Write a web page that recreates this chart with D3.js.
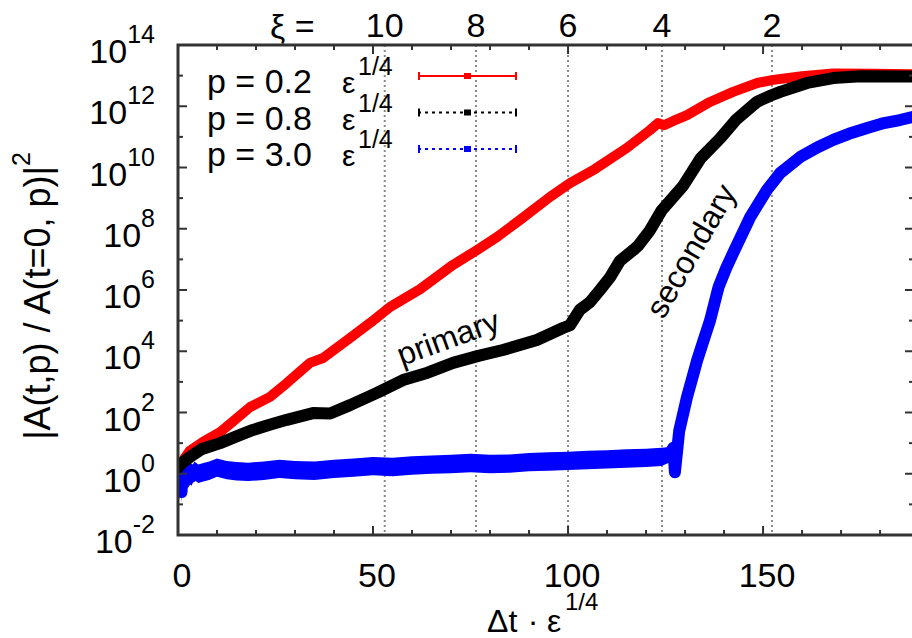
<!DOCTYPE html>
<html>
<head>
<meta charset="utf-8">
<script src="https://cdn.jsdelivr.net/npm/d3@7"></script>
<style>
  body { margin: 0; background: #fff; }
  svg { display: block; }
  text { font-family: "Liberation Sans", Arial, Helvetica, sans-serif; fill: #000; }
</style>
</head>
<body>
<svg id="chart" width="912" height="638"></svg>
<script>
// Growth of |A(t,p)|^2 relative to t = 0, values given as log10 of the ratio.
// p = 0.2 eps^(1/4)
const redT   = [0, 1, 3, 6.4, 10.8, 14.5, 18.5, 23.6, 27.9, 33.8, 37.2, 44.1, 49.2, 54.4, 62, 70.5, 76.7, 81.8, 87.7, 95.4, 100.5, 106.9, 115.1, 121, 123.1, 124.6, 127, 130.5, 136.4, 142.3, 148.5, 152.6, 160, 168, 178, 188.7];
const redLog = [0.2, 0.38, 0.75, 1.04, 1.36, 1.75, 2.18, 2.51, 2.96, 3.62, 3.78, 4.43, 4.92, 5.45, 6.02, 6.82, 7.31, 7.73, 8.29, 9.04, 9.49, 9.95, 10.64, 11.22, 11.45, 11.38, 11.52, 11.71, 12.14, 12.47, 12.76, 12.86, 12.98, 13.07, 13.06, 13.04];

// p = 0.8 eps^(1/4)
const blackT   = [0, 1, 3.1, 6, 10.8, 15, 19.2, 23.5, 27.9, 34.6, 39, 44.1, 51, 57.7, 64, 70.5, 77, 83.3, 92, 98.7, 100.5, 103, 105.6, 108.2, 110.8, 113.3, 116.7, 118, 121, 124, 129.5, 134, 139, 143, 148.5, 152, 154.4, 161.3, 168, 175, 188.7];
const blackLog = [0.2, 0.35, 0.55, 0.8, 1.0, 1.22, 1.43, 1.6, 1.76, 1.98, 1.97, 2.24, 2.64, 3.06, 3.3, 3.62, 3.85, 4.04, 4.37, 4.76, 4.85, 5.35, 5.6, 6.0, 6.42, 6.95, 7.3, 7.45, 7.95, 8.6, 9.4, 10.3, 10.95, 11.55, 12.15, 12.35, 12.47, 12.76, 12.92, 12.98, 12.97];

// p = 3.0 eps^(1/4), with the scatter of the data around the curve (in decades)
const blueT      = [0, 0.3, 0.6, 0.9, 1.2, 1.5, 1.9, 2.3, 2.8, 3.4, 4.2, 5.2, 6.5, 8, 10, 12.5, 15, 18, 22, 26, 30, 35, 40, 45, 50, 55, 60, 65, 70, 75, 80, 85, 90, 95, 100, 105, 110, 115, 120, 124, 126, 127, 127.4, 128.5, 130.5, 133.1, 134.6, 136.4, 138.6, 140.5, 142.3, 146.7, 151, 154.4, 159.5, 164, 168, 172, 176.7, 181, 185.1, 188.7];
const blueLog    = [0.1, -0.5, 0.35, -0.6, 0.2, -0.3, 0.3, -0.2, 0.15, -0.1, 0.1, 0.0, 0.05, 0.1, 0.2, 0.12, 0.08, 0.06, 0.1, 0.16, 0.12, 0.1, 0.16, 0.2, 0.25, 0.22, 0.27, 0.3, 0.32, 0.35, 0.32, 0.33, 0.38, 0.4, 0.42, 0.45, 0.47, 0.5, 0.52, 0.55, 0.62, 0.85, 0.05, 1.4, 2.5, 3.7, 4.3, 5.0, 6.1, 6.7, 7.2, 8.38, 9.27, 9.82, 10.34, 10.66, 10.9, 11.1, 11.29, 11.45, 11.55, 11.66];
const blueSpread = [0.35, 0.35, 0.35, 0.35, 0.35, 0.35, 0.33, 0.32, 0.3, 0.3, 0.3, 0.3, 0.3, 0.3, 0.3, 0.3, 0.3, 0.3, 0.3, 0.3, 0.3, 0.3, 0.3, 0.3, 0.3, 0.3, 0.3, 0.3, 0.3, 0.3, 0.3, 0.3, 0.3, 0.3, 0.3, 0.3, 0.3, 0.3, 0.3, 0.3, 0.25, 0.08, 0.08, 0.06, 0.05, 0.05, 0.05, 0.05, 0.05, 0.05, 0.05, 0.05, 0.05, 0.05, 0.05, 0.05, 0.05, 0.05, 0.05, 0.05, 0.05, 0.05];

// Axis ticks and labels
const xTicks      = [0, 50, 100, 150];
const xMinorTicks = [10, 20, 30, 40, 60, 70, 80, 90, 110, 120, 130, 140, 160, 170, 180];
const yExponents  = [-2, 0, 2, 4, 6, 8, 10, 12, 14];
const yMinorExp   = [-1, 1, 3, 5, 7, 9, 11, 13];

// Reference lines of constant xi (top axis)
const xiLabels = ["10", "8", "6", "4", "2"];
const xiT      = [53, 76.4, 100, 124.1, 152.3];

// Legend entries
const legendLabels = ["p = 0.2", "p = 0.8", "p = 3.0"];
const seriesColors = ["#ff0000", "#000000", "#0000ff"];

const svg = d3.select("#chart");
const L = 178, R = 914, T = 45, B = 535;

const x = d3.scaleLinear().domain([0, 188.7]).range([L, R]);
const y = d3.scaleLog().domain([1e-2, 1e14]).range([B, T]);
const yv = v => y(Math.pow(10, v));

svg.append("defs").append("clipPath").attr("id", "plotclip")
  .append("rect").attr("x", L).attr("y", T).attr("width", R - L).attr("height", B - T);

// dotted xi reference lines
svg.append("g").selectAll("line").data(xiT).join("line")
  .attr("x1", d => x(d)).attr("x2", d => x(d))
  .attr("y1", T).attr("y2", B)
  .attr("stroke", "#8a8a8a").attr("stroke-width", 2)
  .attr("stroke-dasharray", "2,3");

// curves
const plot = svg.append("g").attr("clip-path", "url(#plotclip)");

const blueRows = blueT.map((t, i) => ({ t, v: blueLog[i], s: blueSpread[i] }));
plot.append("path")
  .datum(blueRows)
  .attr("fill", seriesColors[2])
  .attr("d", d3.area().x(d => x(d.t)).y0(d => yv(d.v - d.s)).y1(d => yv(d.v + d.s)));

const line = d3.line().x(d => x(d[0])).y(d => yv(d[1]));
function drawSeries(ts, vs, color, width) {
  plot.append("path")
    .datum(ts.map((t, i) => [t, vs[i]]))
    .attr("fill", "none")
    .attr("stroke", color)
    .attr("stroke-width", width)
    .attr("stroke-linejoin", "round")
    .attr("stroke-linecap", "round")
    .attr("d", line);
}
drawSeries(blueT, blueLog, seriesColors[2], 12);
drawSeries(redT, redLog, seriesColors[0], 10);
drawSeries(blackT, blackLog, seriesColors[1], 12);

// frame
svg.append("rect").attr("x", L).attr("y", T).attr("width", R - L).attr("height", B - T)
  .attr("fill", "none").attr("stroke", "#333").attr("stroke-width", 3);

// ticks (all four sides, pointing inward)
const tk = svg.append("g").attr("stroke", "#333").attr("stroke-width", 2);
function xTickMarks(vals, len) {
  tk.selectAll(null).data(vals).join("line")
    .attr("x1", d => x(d)).attr("x2", d => x(d)).attr("y1", B).attr("y2", B - len);
  tk.selectAll(null).data(vals).join("line")
    .attr("x1", d => x(d)).attr("x2", d => x(d)).attr("y1", T).attr("y2", T + len);
}
function yTickMarks(vals, len) {
  tk.selectAll(null).data(vals).join("line")
    .attr("x1", L).attr("x2", L + len).attr("y1", d => yv(d)).attr("y2", d => yv(d));
  tk.selectAll(null).data(vals).join("line")
    .attr("x1", R).attr("x2", R - len).attr("y1", d => yv(d)).attr("y2", d => yv(d));
}
xTickMarks(xTicks, 9); xTickMarks(xMinorTicks, 5);
yTickMarks(yExponents, 9); yTickMarks(yMinorExp, 5);

// x tick labels
svg.append("g").selectAll("text").data(xTicks).join("text")
  .attr("x", d => x(d) + 4).attr("y", 587)
  .attr("text-anchor", "middle").attr("font-size", 34)
  .text(d => d);

// y tick labels: 10^n
const yl = svg.append("g").selectAll("text").data(yExponents).join("text")
  .attr("x", 155).attr("y", d => yv(d) + 18)
  .attr("text-anchor", "end").attr("font-size", 34);
yl.append("tspan").text("10");
yl.append("tspan").attr("font-size", 25).attr("dy", -20).text(d => d);

// top axis: xi labels
svg.append("text").attr("x", 270).attr("y", 38).attr("font-size", 34).text("ξ =");
svg.append("g").selectAll("text").data(xiT).join("text")
  .attr("x", d => x(d)).attr("y", 37)
  .attr("text-anchor", "middle").attr("font-size", 34)
  .text((d, i) => xiLabels[i]);

// axis titles
const yt = svg.append("text")
  .attr("transform", "translate(50,296) rotate(-90)")
  .attr("text-anchor", "middle").attr("font-size", 36);
yt.append("tspan").text("|A(t,p) / A(t=0, p)|");
yt.append("tspan").attr("font-size", 25).attr("dy", -20).text("2");

const xt = svg.append("g").attr("font-size", 32);
xt.append("text").attr("x", 487).attr("y", 632).text("Δt");
xt.append("text").attr("x", 533).attr("y", 632).attr("text-anchor", "middle").text("·");
xt.append("text").attr("x", 547).attr("y", 632).text("ε");
xt.append("text").attr("x", 565).attr("y", 610).attr("font-size", 24).text("1/4");

// annotations
svg.append("text").attr("transform", "translate(449,340) rotate(-20)")
  .attr("text-anchor", "middle").attr("dominant-baseline", "middle")
  .attr("font-size", 32).text("primary");
svg.append("text").attr("transform", "translate(693,252) rotate(-60)")
  .attr("text-anchor", "middle").attr("dominant-baseline", "middle")
  .attr("font-size", 32).text("secondary");

// legend
const legBase = [93, 129.5, 166];
const leg = svg.append("g");
legendLabels.forEach((lab, i) => {
  const by = legBase[i];
  leg.append("text").attr("x", 207).attr("y", by).attr("font-size", 34).text(lab);
  leg.append("text").attr("x", 342).attr("y", by).attr("font-size", 30).text("ε");
  leg.append("text").attr("x", 358).attr("y", by - 18).attr("font-size", 25).text("1/4");
  const ly = by - 17, c = seriesColors[i];
  const g = leg.append("g").attr("stroke", c).attr("stroke-width", 2);
  g.append("line").attr("x1", 418).attr("x2", 517).attr("y1", ly).attr("y2", ly)
    .attr("stroke-dasharray", i === 0 ? null : "3,4");
  g.append("line").attr("x1", 419).attr("x2", 419).attr("y1", ly - 4).attr("y2", ly + 4);
  g.append("line").attr("x1", 516).attr("x2", 516).attr("y1", ly - 4).attr("y2", ly + 4);
  g.append("rect").attr("x", 464).attr("y", ly - 3).attr("width", 7).attr("height", 6)
    .attr("fill", c).attr("stroke", "none");
});
</script>
</body>
</html>
